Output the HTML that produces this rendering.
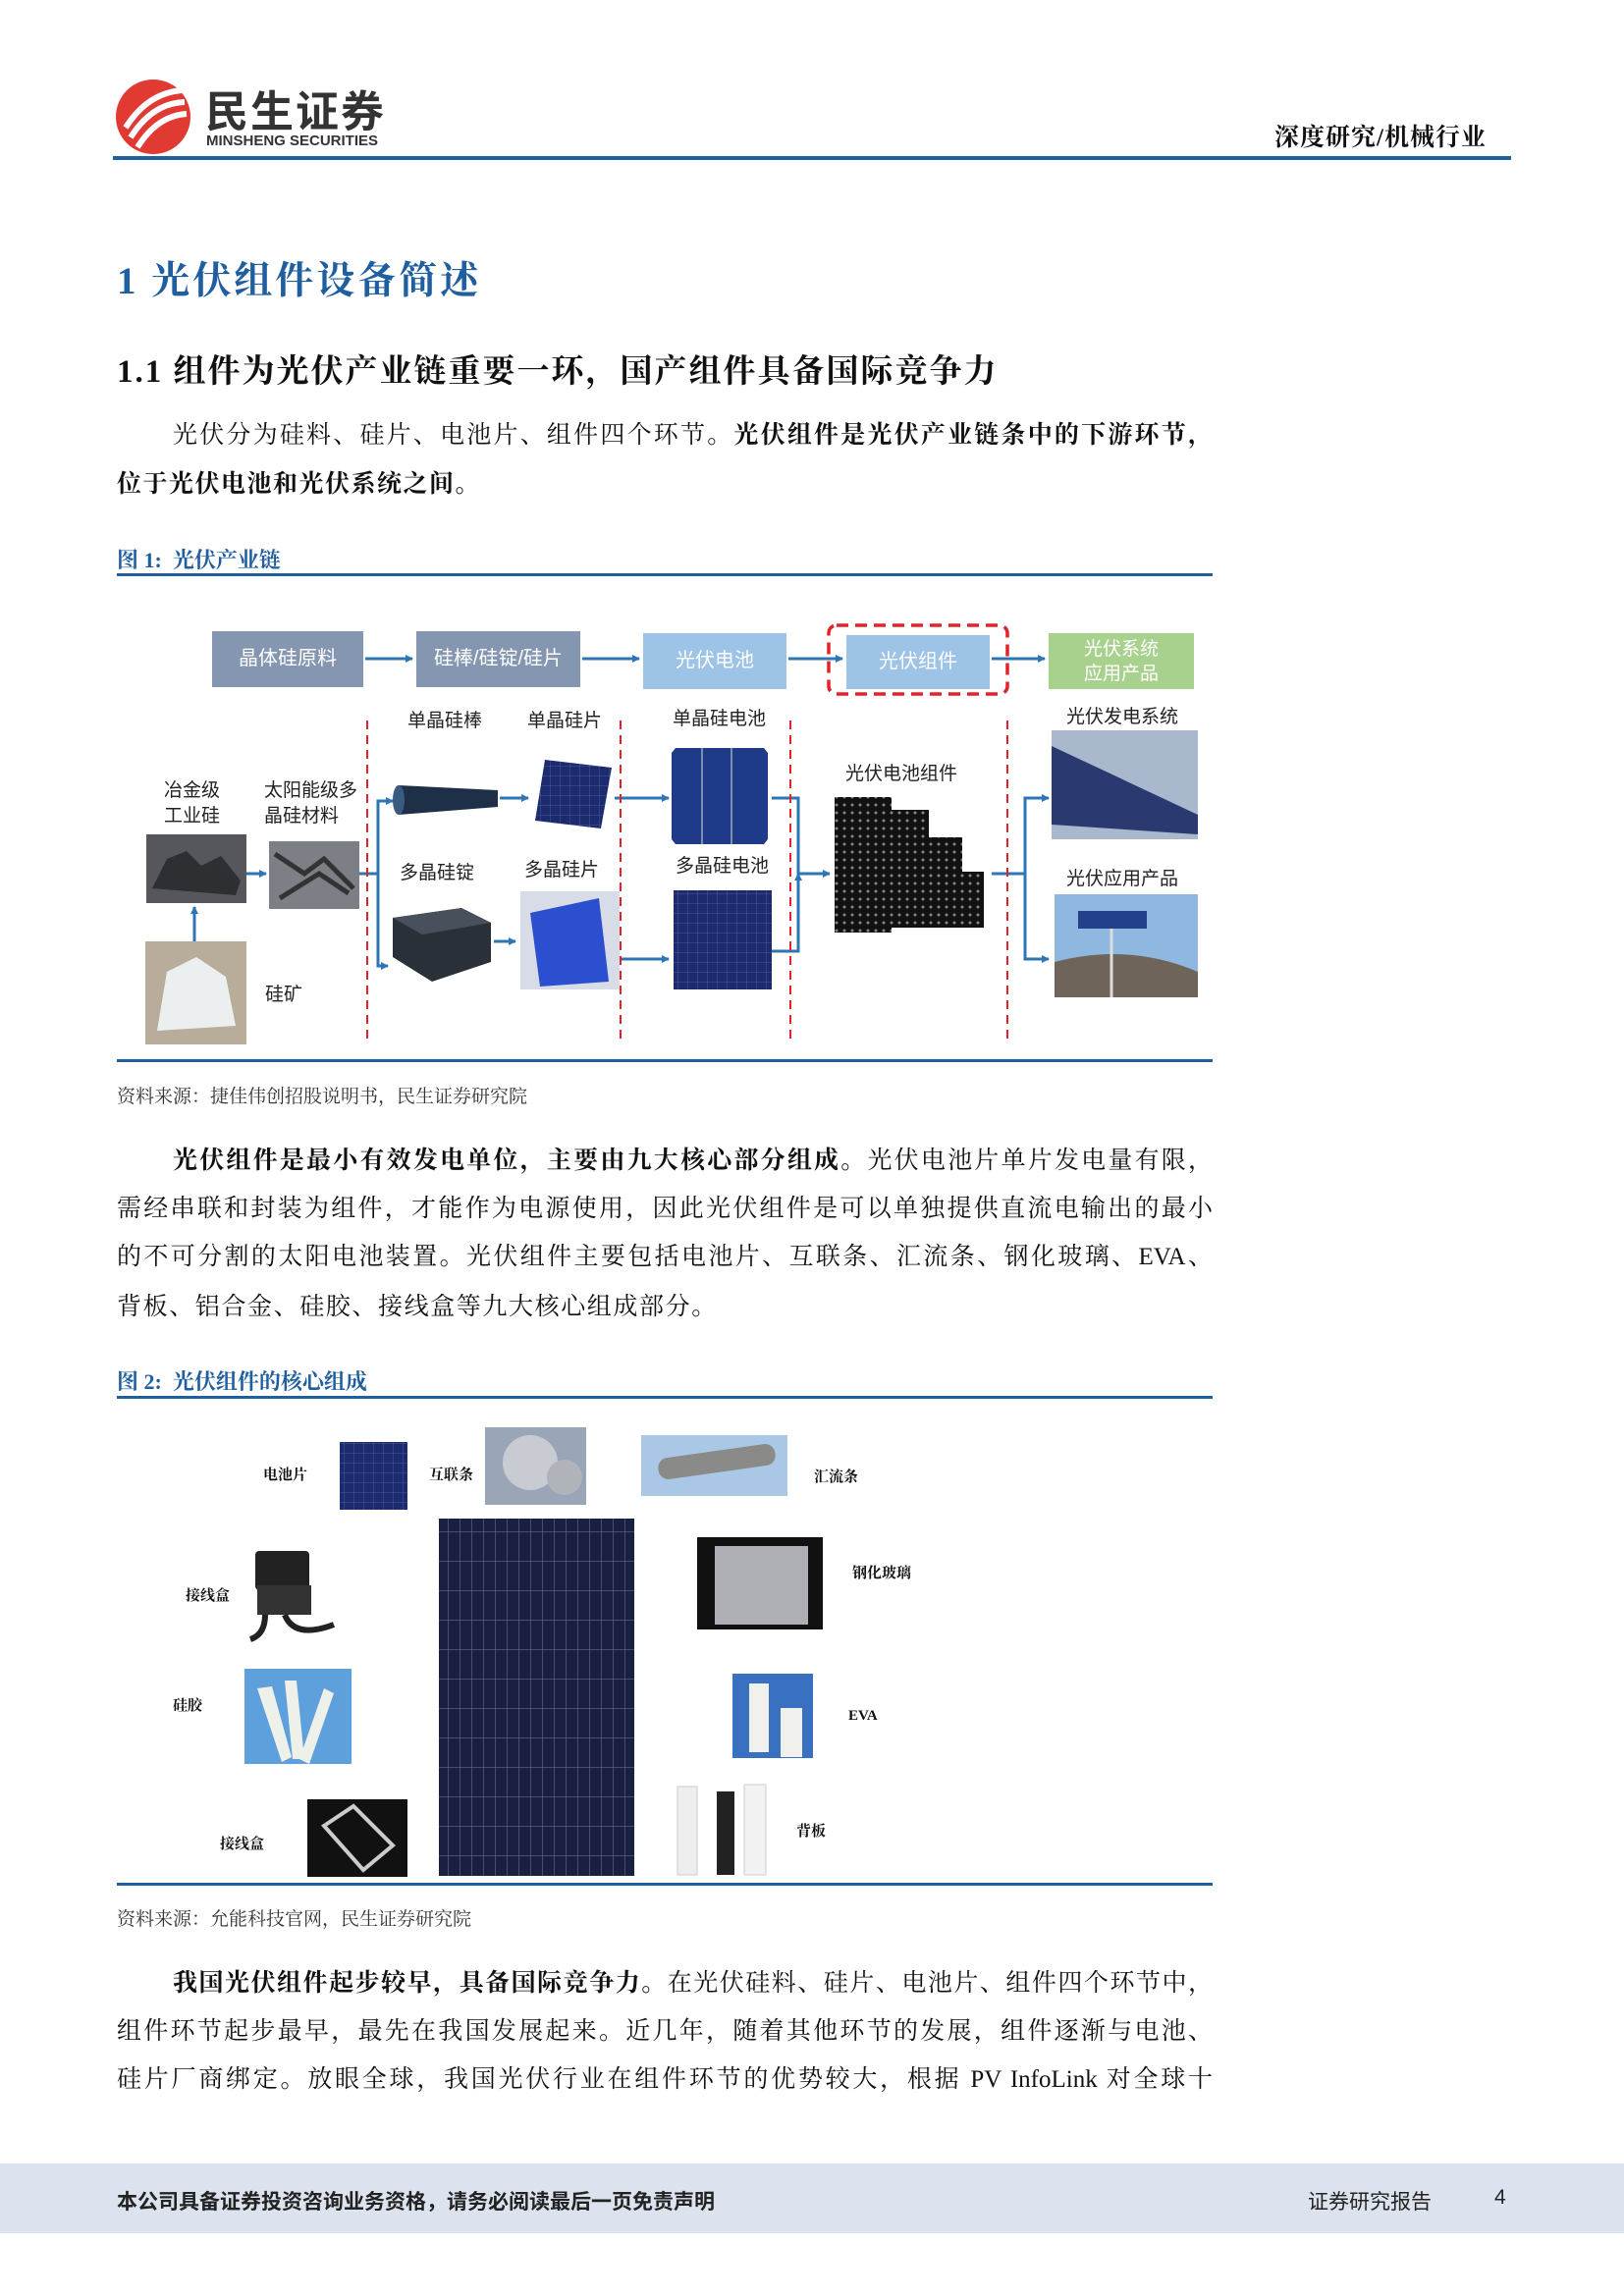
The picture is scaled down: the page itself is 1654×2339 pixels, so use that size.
<!DOCTYPE html>
<html><head><meta charset="utf-8">
<style>
body{margin:0;width:1654px;height:2339px;background:#fff;position:relative;overflow:hidden;font-family:"Liberation Serif","Noto Serif CJK SC",serif;color:#111}
.a{position:absolute;white-space:nowrap}
.s{font-family:"Liberation Sans","Noto Sans CJK SC",sans-serif}
.p{position:absolute;left:119px;width:1116px;font-size:25px;line-height:30px;text-align:justify;text-align-last:justify;white-space:nowrap}
.lb{font-family:"Liberation Sans","Noto Sans CJK SC",sans-serif;font-size:19px;color:#222;position:absolute;white-space:nowrap;line-height:24px}
.l2{font-size:15px;font-weight:bold;position:absolute;white-space:nowrap;line-height:18px}
.bx{position:absolute;color:#fff;font-family:"Liberation Sans","Noto Sans CJK SC",sans-serif;font-size:20px;display:flex;align-items:center;justify-content:center;text-align:center;line-height:25px}
</style></head><body>
<svg width="1654" height="2339" style="position:absolute;left:0;top:0">
<defs>
<marker id="ar" markerWidth="8" markerHeight="8" refX="7" refY="4" orient="auto" markerUnits="userSpaceOnUse"><path d="M0,0 L8,4 L0,8 z" fill="#2e75b6"/></marker>
<pattern id="cell" width="10" height="10" patternUnits="userSpaceOnUse"><rect width="10" height="10" fill="#1c2a6e"/><path d="M0,0H10M0,0V10" stroke="#4a5aa0" stroke-width="1"/></pattern>
<pattern id="mod" width="8" height="8" patternUnits="userSpaceOnUse"><rect width="8" height="8" fill="#111"/><circle cx="4" cy="4" r="1.5" fill="#888"/></pattern>
<pattern id="big" width="12" height="30" patternUnits="userSpaceOnUse"><rect width="12" height="30" fill="#1a2140"/><path d="M0,0H12M0,0V30" stroke="#6d7aa8" stroke-width="1"/></pattern>
</defs>
<circle cx="156" cy="119" r="38" fill="#e03a33"/>
<path d="M128,130 Q150,95 185,92 M133,140 Q155,105 188,104 M140,150 Q160,118 190,116" stroke="#fff" stroke-width="6" fill="none"/>
<rect x="115" y="159" width="1424" height="4" fill="#1f5fa0"/>
<rect x="119" y="584" width="1116" height="3" fill="#1f5fa0"/>
<g stroke="#2e75b6" stroke-width="3" fill="none" marker-end="url(#ar)">
<line x1="372" y1="671" x2="420" y2="671"/>
<line x1="593" y1="671" x2="651" y2="671"/>
<line x1="803" y1="671" x2="858" y2="671"/>
<line x1="1010" y1="671" x2="1064" y2="671"/>
<line x1="198" y1="962" x2="198" y2="924"/>
<line x1="251" y1="890" x2="271" y2="890"/>
<line x1="509" y1="813" x2="538" y2="813"/>
<line x1="503" y1="959" x2="525" y2="959"/>
<line x1="626" y1="813" x2="681" y2="813"/>
<line x1="632" y1="977" x2="681" y2="977"/>
<path d="M366,890 H385 V816 H400"/>
<path d="M385,890 V984 H395"/>
<path d="M786,813 H813 V890 H845"/>
<path d="M786,969 H813 V890"/>
<path d="M1010,890 H1044 V813 H1068"/>
<path d="M1044,890 V977 H1068"/>
</g>
<rect x="216" y="643" width="154" height="57" fill="#8496b0"/>
<rect x="424" y="643" width="167" height="57" fill="#8496b0"/>
<rect x="655" y="645" width="146" height="57" fill="#9dc3e6"/>
<rect x="862" y="647" width="146" height="55" fill="#9dc3e6"/>
<rect x="844" y="637" width="182" height="70" rx="8" fill="none" stroke="#e0242a" stroke-width="3.5" stroke-dasharray="12,7"/>
<rect x="1068" y="645" width="148" height="57" fill="#a9d18e"/>
<g stroke="#e0242a" stroke-width="2" stroke-dasharray="9,6">
<line x1="374" y1="734" x2="374" y2="1062"/><line x1="632" y1="734" x2="632" y2="1062"/>
<line x1="805" y1="734" x2="805" y2="1062"/><line x1="1026" y1="734" x2="1026" y2="1062"/>
</g>
<rect x="149" y="850" width="102" height="70" fill="#55575c"/><path d="M155,905 l15,-30 20,-8 15,15 20,-10 20,25 l-5,15z" fill="#2e2f33"/>
<rect x="148" y="959" width="103" height="105" fill="#b8ad9a"/><path d="M160,1050 l10,-60 30,-15 30,20 10,50z" fill="#eceff0"/>
<rect x="274" y="857" width="92" height="69" fill="#7c7f85"/><path d="M280,870l30,20 20,-15 30,30M285,915l40,-25 30,20" stroke="#333" stroke-width="5" fill="none"/>
<path d="M406,800 L507,805 L507,822 L406,830 Z" fill="#1e3047"/><ellipse cx="406" cy="815" rx="6" ry="15" fill="#3a5a80"/>
<path d="M555,774 L623,782 L612,844 L545,836 Z" fill="url(#cell)"/>
<path d="M400,935 L470,925 L500,940 L500,980 L440,1000 L400,975 Z" fill="#2a3038"/><path d="M400,935 L470,925 L500,940 L430,952 Z" fill="#48505c"/>
<rect x="530" y="908" width="101" height="100" fill="#d8dce6"/><path d="M540,930 l70,-15 10,85 -70,5z" fill="#2c4fd0"/>
<path d="M688,762 h90 l4,5 v88 l-4,5 h-90 l-4,-5 v-88z" fill="#203a8a"/>
<line x1="715" y1="762" x2="715" y2="860" stroke="#9ab" stroke-width="1.5"/><line x1="745" y1="762" x2="745" y2="860" stroke="#9ab" stroke-width="1.5"/>
<rect x="686" y="907" width="100" height="101" fill="url(#cell)"/>
<rect x="850" y="812" width="58" height="138" fill="url(#mod)"/><rect x="898" y="825" width="48" height="120" fill="url(#mod)"/>
<rect x="940" y="853" width="40" height="92" fill="url(#mod)"/><rect x="970" y="888" width="32" height="57" fill="url(#mod)"/>
<rect x="1071" y="744" width="149" height="111" fill="#a9b8cc"/><path d="M1071,760 L1220,830 L1220,850 L1071,840Z" fill="#2a3a70"/>
<rect x="1074" y="911" width="146" height="105" fill="#8fb8e0"/><path d="M1074,980 Q1150,960 1220,990 V1016 H1074Z" fill="#6e645a"/><rect x="1098" y="928" width="70" height="18" fill="#24408a"/><line x1="1132" y1="946" x2="1132" y2="1016" stroke="#ddd" stroke-width="3"/>
<rect x="119" y="1079" width="1116" height="3" fill="#1f5fa0"/>
<rect x="119" y="1422" width="1116" height="3" fill="#1f5fa0"/>
<rect x="346" y="1469" width="69" height="69" fill="url(#cell)"/>
<rect x="494" y="1454" width="103" height="79" fill="#9aa6b8"/><circle cx="540" cy="1490" r="28" fill="#c8ccd2"/><circle cx="575" cy="1505" r="18" fill="#b0b4ba"/>
<rect x="653" y="1462" width="149" height="62" fill="#aac8e6"/><rect x="670" y="1478" width="120" height="22" rx="10" fill="#8a8a88" transform="rotate(-8 730 1489)"/>
<rect x="710" y="1566" width="128" height="94" fill="#111"/><rect x="728" y="1575" width="95" height="80" fill="#d6d6de" opacity="0.8"/>
<rect x="260" y="1580" width="55" height="40" rx="4" fill="#222"/><rect x="262" y="1615" width="55" height="30" fill="#333"/><path d="M290,1645 Q300,1670 340,1655 M270,1645 Q270,1665 255,1670" stroke="#222" stroke-width="6" fill="none"/>
<rect x="249" y="1700" width="109" height="97" fill="#5ea0dc"/><path d="M262,1720 l25,75 10,-5 -20,-72z M290,1712 l8,80 12,0 -8,-80z M330,1720 l-25,72 10,5 25,-72z" fill="#eef0ea"/>
<rect x="746" y="1705" width="82" height="86" fill="#3a70c0"/><rect x="763" y="1715" width="20" height="70" fill="#f0f0ec"/><rect x="795" y="1740" width="22" height="50" fill="#f0f0ec"/>
<rect x="313" y="1833" width="102" height="79" fill="#111"/><path d="M330,1860 L360,1840 L400,1880 L370,1905 Z" stroke="#ccc" stroke-width="4" fill="none"/>
<rect x="690" y="1820" width="20" height="90" fill="#eee" stroke="#ccc"/><rect x="730" y="1825" width="18" height="85" fill="#222"/><rect x="758" y="1818" width="22" height="92" fill="#f2f2f2" stroke="#ccc"/>
<rect x="447" y="1547" width="199" height="364" fill="url(#big)"/>
<rect x="119" y="1918" width="1116" height="3" fill="#1f5fa0"/>
<rect x="0" y="2204" width="1654" height="71" fill="#dce3ee"/>
</svg>

<div class="a s" style="left:209px;top:78px;font-size:44px;font-weight:bold;color:#333;letter-spacing:2px">民生证券</div>
<div class="a s" style="left:210px;top:135px;font-size:15px;font-weight:bold;color:#333">MINSHENG SECURITIES</div>
<div class="a" style="left:1298px;top:120px;font-size:25px;font-weight:bold;letter-spacing:1px">深度研究/机械行业</div>
<div class="a" style="left:119px;top:255px;font-size:39px;font-weight:bold;color:#1f5fa0;letter-spacing:3px">1 光伏组件设备简述</div>
<div class="a" style="left:119px;top:352px;font-size:33px;font-weight:bold;letter-spacing:2px">1.1 组件为光伏产业链重要一环，国产组件具备国际竞争力</div>
<div class="p" style="top:429px;left:176px;width:1059px">光伏分为硅料、硅片、电池片、组件四个环节。<b>光伏组件是光伏产业链条中的下游环节，</b></div>
<div class="p" style="top:479px;text-align-last:left;letter-spacing:1.5px"><b>位于光伏电池和光伏系统之间。</b></div>
<div class="a" style="left:119px;top:554px;font-size:22px;font-weight:bold;color:#1f5fa0">图 1:&nbsp; 光伏产业链</div>

<div class="bx" style="left:216px;top:643px;width:154px;height:57px">晶体硅原料</div>
<div class="bx" style="left:424px;top:643px;width:167px;height:57px">硅棒/硅锭/硅片</div>
<div class="bx" style="left:655px;top:645px;width:146px;height:57px">光伏电池</div>
<div class="bx" style="left:862px;top:647px;width:146px;height:55px">光伏组件</div>
<div class="bx" style="left:1068px;top:645px;width:148px;height:57px;font-size:19px">光伏系统<br>应用产品</div>

<div class="lb" style="left:415px;top:723px">单晶硅棒</div>
<div class="lb" style="left:537px;top:723px">单晶硅片</div>
<div class="lb" style="left:685px;top:721px">单晶硅电池</div>
<div class="lb" style="left:1086px;top:719px">光伏发电系统</div>
<div class="lb" style="left:861px;top:777px">光伏电池组件</div>
<div class="lb" style="left:167px;top:793px;line-height:26px">冶金级<br>工业硅</div>
<div class="lb" style="left:269px;top:793px;line-height:26px">太阳能级多<br>晶硅材料</div>
<div class="lb" style="left:407px;top:878px">多晶硅锭</div>
<div class="lb" style="left:534px;top:875px">多晶硅片</div>
<div class="lb" style="left:688px;top:871px">多晶硅电池</div>
<div class="lb" style="left:1086px;top:884px">光伏应用产品</div>
<div class="lb" style="left:270px;top:1002px">硅矿</div>

<div class="a" style="left:119px;top:1102px;font-size:19px;color:#333">资料来源：捷佳伟创招股说明书，民生证券研究院</div>

<div class="p" style="top:1168px;left:176px;width:1059px"><b>光伏组件是最小有效发电单位，主要由九大核心部分组成。</b>光伏电池片单片发电量有限，</div>
<div class="p" style="top:1217px">需经串联和封装为组件，才能作为电源使用，因此光伏组件是可以单独提供直流电输出的最小</div>
<div class="p" style="top:1266px">的不可分割的太阳电池装置。光伏组件主要包括电池片、互联条、汇流条、钢化玻璃、EVA、</div>
<div class="p" style="top:1317px;text-align-last:left;letter-spacing:1.6px">背板、铝合金、硅胶、接线盒等九大核心组成部分。</div>

<div class="a" style="left:119px;top:1391px;font-size:22px;font-weight:bold;color:#1f5fa0">图 2:&nbsp; 光伏组件的核心组成</div>
<div class="l2" style="left:268px;top:1494px">电池片</div>
<div class="l2" style="left:437px;top:1494px">互联条</div>
<div class="l2" style="left:829px;top:1496px">汇流条</div>
<div class="l2" style="left:868px;top:1594px">钢化玻璃</div>
<div class="l2" style="left:189px;top:1617px">接线盒</div>
<div class="l2" style="left:176px;top:1729px">硅胶</div>
<div class="l2" style="left:864px;top:1739px">EVA</div>
<div class="l2" style="left:224px;top:1870px">接线盒</div>
<div class="l2" style="left:811px;top:1857px">背板</div>

<div class="a" style="left:119px;top:1940px;font-size:19px;color:#333">资料来源：允能科技官网，民生证券研究院</div>

<div class="p" style="top:2006px;left:176px;width:1059px"><b>我国光伏组件起步较早，具备国际竞争力。</b>在光伏硅料、硅片、电池片、组件四个环节中，</div>
<div class="p" style="top:2055px">组件环节起步最早，最先在我国发展起来。近几年，随着其他环节的发展，组件逐渐与电池、</div>
<div class="p" style="top:2104px">硅片厂商绑定。放眼全球，我国光伏行业在组件环节的优势较大，根据 PV InfoLink 对全球十</div>

<div class="a s" style="left:119px;top:2227px;font-size:21px;font-weight:bold;color:#222">本公司具备证券投资咨询业务资格，请务必阅读最后一页免责声明</div>
<div class="a s" style="left:1332px;top:2227px;font-size:21px;color:#222">证券研究报告</div>
<div class="a s" style="left:1522px;top:2227px;font-size:21px;color:#222">4</div>
</body></html>
